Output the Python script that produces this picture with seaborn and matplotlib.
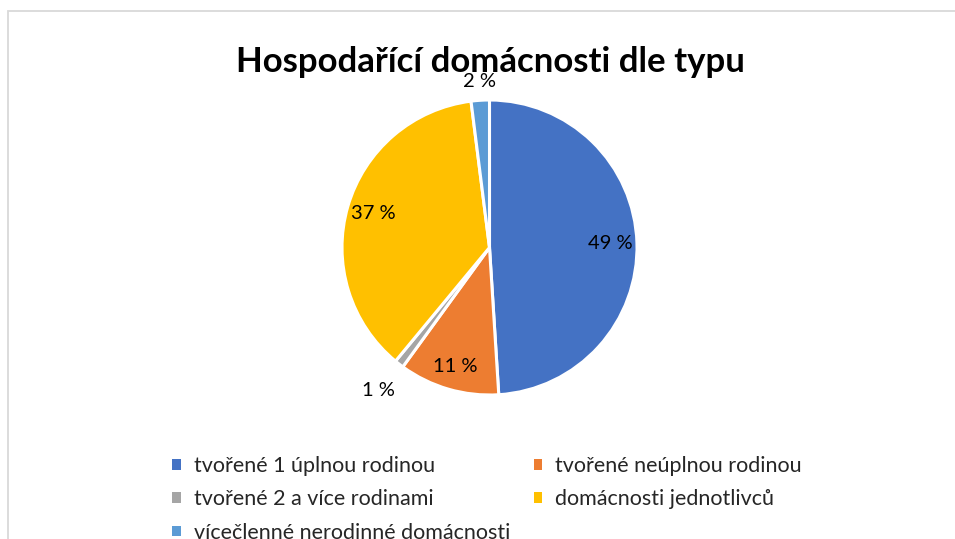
import matplotlib
matplotlib.use("Agg")
import matplotlib.pyplot as plt
from matplotlib.patches import Patch, Rectangle
import seaborn as sns
import numpy as np

# data
categories = ["tvořené 1 úplnou rodinou", "tvořené neúplnou rodinou",
              "tvořené 2 a více rodinami", "domácnosti jednotlivců",
              "vícečlenné nerodinné domácnosti"]
shares = [49, 11, 1, 37, 2]
pct_labels = ["49 %", "11 %", "1 %", "37 %", "2 %"]
title = "Hospodařící domácnosti dle typu"

colors = sns.color_palette(["#4472C4", "#ED7D31", "#A5A5A5", "#FFC000", "#5B9BD5"])
# distance of each data label from the centre (1 = pie edge)
label_dist = [0.82, 0.84, 1.23, 0.82, 1.13]

sns.set_theme(style="white")
plt.rcParams['font.family'] = ['Lato', 'DejaVu Sans']

W, H = 955, 539
fig = plt.figure(figsize=(W / 100, H / 100), dpi=100)

# chart frame (right and bottom edges fall outside the picture)
fig.patches.append(Rectangle((8 / W, -0.1), 1.2, 1.1 - 11 / H,
                             transform=fig.transFigure, fill=False,
                             edgecolor="#D9D9D9", linewidth=1.3))

cx, cy, r = 489.5, 247.5, 147.5
ax = fig.add_axes([(cx - r) / W, 1 - (cy + r) / H, 2 * r / W, 2 * r / H])
wedges, _ = ax.pie(shares, colors=colors, startangle=90, counterclock=False,
                   wedgeprops=dict(edgecolor="white", linewidth=2.2))
ax.set_xlim(-1, 1)
ax.set_ylim(-1, 1)
ax.set_aspect("equal")
ax.axis("off")

for w, lab, d in zip(wedges, pct_labels, label_dist):
    ang = np.deg2rad((w.theta1 + w.theta2) / 2)
    ax.text(d * np.cos(ang), d * np.sin(ang), lab, ha="center", va="center",
            fontsize=14.5, color="#000000", clip_on=False)

fig.text(490 / W, 1 - 72 / H, title, ha="center", va="baseline",
         fontsize=25, fontweight="bold", color="#000000")

handles = [Patch(facecolor=c, edgecolor="none") for c in colors]
order = [0, 2, 4, 1, 3]
fig.legend([handles[i] for i in order], [categories[i] for i in order],
           ncol=2, loc="upper left", bbox_to_anchor=(172 / W, 1 - 456 / H),
           frameon=False, fontsize=15.5, handlelength=0.4, handleheight=0.4,
           handletextpad=0.6, columnspacing=1.1, labelspacing=0.62,
           borderpad=0, borderaxespad=0)

fig.savefig("out.png", dpi=100, facecolor="white")
